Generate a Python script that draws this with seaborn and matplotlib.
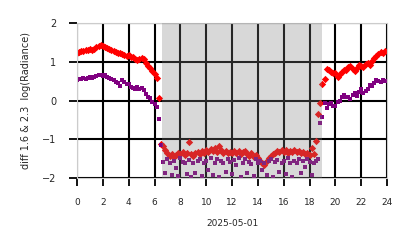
import numpy as np
import pandas as pd
import matplotlib
matplotlib.use("Agg")
import matplotlib.pyplot as plt
import seaborn as sns

# 10-minute samples, 2025-05-01 (hours of day)
hours = [i / 6 for i in range(144)]

red_vals = [
    1.22, 1.25, 1.28, 1.27, 1.30, 1.31,
    1.32, 1.30, 1.34, 1.38, 1.40, 1.43,
    1.40, 1.37, 1.36, 1.33, 1.30, 1.27,
    1.25, 1.22, 1.24, 1.20, 1.18, 1.16,
    1.18, 1.13, 1.12, 1.07, 1.04, 1.06,
    1.10, 1.08, 0.98, 0.90, 0.85, 0.76,
    0.68, 0.58, 0.06, -1.12, -1.18, -1.28,
    -1.35, -1.42, -1.38, -1.45, -1.40, -1.36,
    -1.38, -1.33, -1.40, -1.35, -1.08, -1.37,
    -1.42, -1.36, -1.32, -1.38, -1.30, -1.35,
    -1.28, -1.33, -1.25, -1.30, -1.22, -1.32,
    -1.18, -1.27, -1.35, -1.30, -1.36, -1.33,
    -1.36, -1.31, -1.35, -1.29, -1.38, -1.33,
    -1.30, -1.37, -1.42, -1.35, -1.45, -1.40,
    -1.48, -1.55, -1.62, -1.66, -1.55, -1.48,
    -1.42, -1.38, -1.35, -1.30, -1.33, -1.28,
    -1.32, -1.27, -1.35, -1.30, -1.33, -1.28,
    -1.34, -1.30, -1.36, -1.32, -1.38, -1.35,
    -1.40, -1.22, -1.38, -1.05, -0.35, -0.05,
    0.42, 0.55, 0.82, 0.78, 0.75, 0.72,
    0.70, 0.62, 0.68, 0.75, 0.80, 0.78,
    0.86, 0.88, 0.82, 0.76, 0.85, 0.92,
    0.90, 0.87, 0.95, 0.98, 0.93, 1.02,
    1.10, 1.15, 1.20, 1.25, 1.22, 1.28,
]

purple_vals = [
    0.52, 0.55, 0.56, 0.57, 0.56, 0.58,
    0.60, 0.58, 0.62, 0.64, 0.66, 0.65,
    0.64, 0.66, 0.62, 0.58, 0.55, 0.52,
    0.49, 0.45, 0.38, 0.53, 0.47, 0.44,
    0.42, 0.36, 0.33, 0.29, 0.35, 0.30,
    0.33, 0.27, 0.18, 0.10, 0.06, -0.03,
    -0.10, -0.17, -0.48, -1.15, -1.58, -1.88,
    -1.52, -1.60, -1.92, -1.55, -1.75, -1.95,
    -1.48, -1.58, -1.62, -1.90, -1.53, -1.98,
    -1.60, -1.88, -1.55, -1.50, -1.95, -1.62,
    -1.57, -1.78, -1.48, -1.93, -1.60, -1.52,
    -1.97, -1.55, -1.62, -1.85, -1.50, -1.58,
    -1.90, -1.54, -1.66, -1.47, -1.98, -1.60,
    -1.52, -1.87, -1.58, -1.63, -1.95, -1.50,
    -1.60, -1.55, -1.80, -1.62, -1.92, -1.57,
    -1.50, -1.96, -1.58, -1.53, -1.85, -1.60,
    -1.55, -1.90, -1.48, -1.62, -1.98, -1.57,
    -1.60, -1.52, -1.88, -1.55, -1.72, -1.50,
    -1.58, -1.92, -1.62, -1.55, -1.50, -0.58,
    -0.42, -0.07, -0.19, -0.10, -0.07, -0.15,
    -0.15, -0.04, 0.00, 0.10, 0.15, 0.08,
    0.10, 0.05, 0.15, 0.20, 0.12, 0.22,
    0.31, 0.20, 0.25, 0.31, 0.40, 0.38,
    0.45, 0.53, 0.50, 0.49, 0.52, 0.50,
]

night_start, night_end = 6.55, 18.95
x_ticks = list(range(0, 25, 2))
y_ticks = [-2, -1, 0, 1, 2]

df = pd.DataFrame({"hour": hours, "red": red_vals, "purple": purple_vals})

sns.set_theme(style="white")
plt.rcParams["font.family"] = ["DejaVu Sans"]

fig = plt.figure(figsize=(4.14, 2.48), dpi=100)
ax = fig.add_axes([0.186, 0.282, 0.749, 0.625])

sns.scatterplot(data=df, x="hour", y="red", ax=ax, color="#ff0000",
                marker="D", s=14, linewidth=0, zorder=2)
sns.scatterplot(data=df, x="hour", y="purple", ax=ax, color="#800080",
                marker="s", s=9, linewidth=0, zorder=2)

ax.axvspan(night_start, night_end, color="gray", alpha=0.3, lw=0, zorder=3)

ax.set_xlim(0, 24)
ax.set_ylim(-2, 2)
ax.set_xticks(x_ticks)
ax.set_yticks(y_ticks)
ax.set_axisbelow(True)
ax.grid(True, color="black", linewidth=1.5)
for sp in ax.spines.values():
    sp.set_color("#cccccc")
    sp.set_linewidth(0.8)
ax.tick_params(axis="both", which="major", direction="out", length=6,
               width=1.3, color="black", labelsize=7, pad=2,
               bottom=True, left=True)
ax.tick_params(axis="y", pad=9)
ax.tick_params(axis="x", labelsize=6.5, pad=8)
ax.set_xlabel("2025-05-01", fontsize=6.5, labelpad=9)
ax.set_ylabel("diff 1.6 & 2.3  log(Radiance)", fontsize=7, labelpad=8)

fig.savefig("out.png", dpi=100)
